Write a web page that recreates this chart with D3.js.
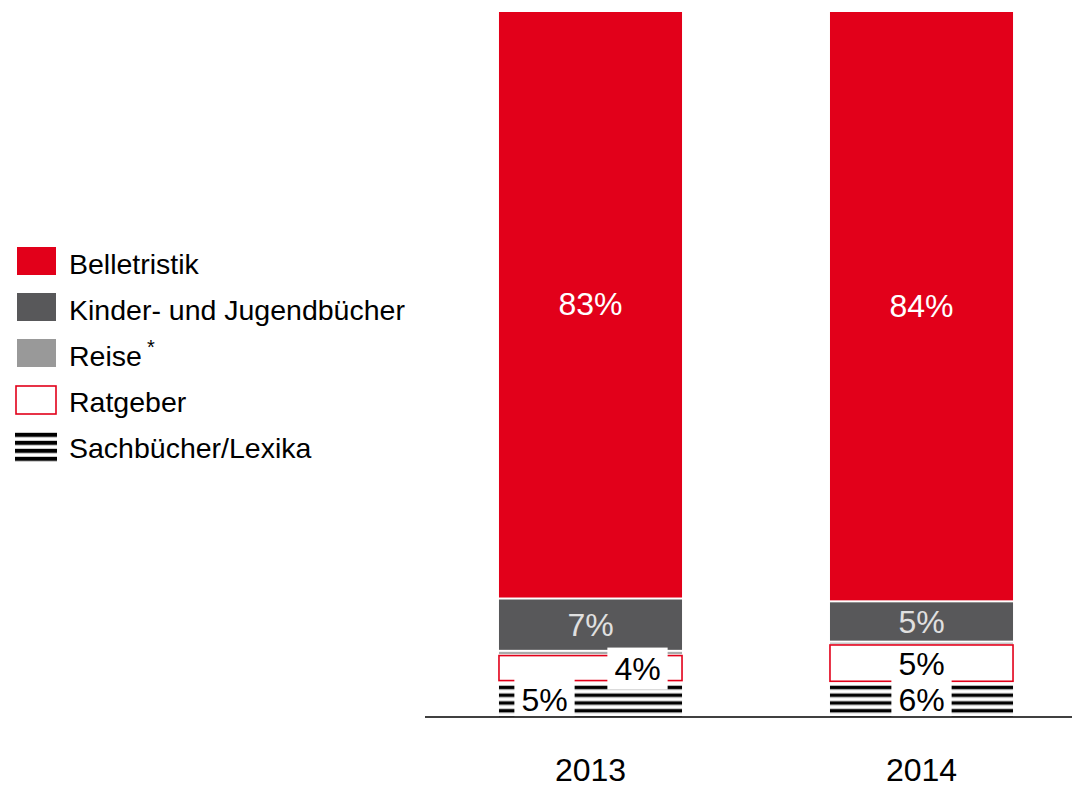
<!DOCTYPE html>
<html>
<head>
<meta charset="utf-8">
<script src="https://cdn.jsdelivr.net/npm/d3@7"></script>
<style>
  body { margin: 0; background: #fff; }
  svg { display: block; font-family: "Liberation Sans", Arial, sans-serif; }
</style>
</head>
<body>
<svg id="chart" width="1072" height="788"></svg>
<script>
// data, stacked bottom to top
const years = ["2013", "2014"];
const categories = ["Sachbücher/Lexika", "Ratgeber", "Reise", "Kinder- und Jugendbücher", "Belletristik"];
const sachbuecher = [4.8, 4.7];
const ratgeber = [4.1, 5.7];
const reise = [0.6, 0.4];
const kinder = [7.4, 5.7];
const belletristik = [83.1, 83.5];
// labels as printed on the chart (Reise has none)
const sachLabels = ["5%", "6%"];
const ratgeberLabels = ["4%", "5%"];
const kinderLabels = ["7%", "5%"];
const bellLabels = ["83%", "84%"];
const legendOrder = ["Belletristik", "Kinder- und Jugendbücher", "Reise", "Ratgeber", "Sachbücher/Lexika"];

const red = "#e2001a";
const dark = "#58585a";
const grey = "#999999";

const svg = d3.select("#chart");
const baseY = 717;

let x = d3.scaleBand()
  .domain(years)
  .range([425, 1087])
  .paddingInner(0.447)
  .paddingOuter(0.2235);
let y = d3.scaleLinear()
  .domain([0, 100])
  .range([baseY, 10]);

// stripe pattern for Sachbücher
let defs = svg.append("defs");
let pat = defs.append("pattern")
  .attr("id", "stripes")
  .attr("patternUnits", "userSpaceOnUse")
  .attr("width", 10)
  .attr("height", 7.75)
  .attr("y", 685);
pat.append("rect").attr("width", 10).attr("height", 7.75).attr("fill", "#fff");
pat.append("rect").attr("y", 0.3).attr("width", 10).attr("height", 0.8).attr("fill", "#999");
pat.append("rect").attr("y", 1).attr("width", 10).attr("height", 3.2).attr("fill", "#000");
pat.append("rect").attr("y", 4.2).attr("width", 10).attr("height", 0.8).attr("fill", "#999");

let series = [sachbuecher, ratgeber, reise, kinder, belletristik];
let rows = years.map((yr, i) => {
  let cum = 0;
  let segs = series.map((s, k) => {
    let seg = { year: yr, cat: categories[k], y0: cum, y1: cum + s[i] };
    cum += s[i];
    return seg;
  });
  return segs;
});

let gBars = svg.append("g");
rows.forEach((segs, i) => {
  let bx = x(years[i]);
  let bw = x.bandwidth();
  segs.forEach(seg => {
    let top = y(seg.y1);
    let bot = y(seg.y0);
    if (seg.cat === "Ratgeber") {
      gBars.append("rect")
        .attr("x", bx)
        .attr("y", top + 1.5)
        .attr("width", bw)
        .attr("height", bot - top - 4)
        .attr("fill", "#fff")
        .attr("stroke", red)
        .attr("stroke-width", 1.6);
    } else if (seg.cat === "Sachbücher/Lexika") {
      gBars.append("rect")
        .attr("x", bx)
        .attr("y", top + 1)
        .attr("width", bw)
        .attr("height", bot - top - 1)
        .attr("fill", "url(#stripes)");
    } else {
      let fill = seg.cat === "Belletristik" ? red : seg.cat === "Reise" ? "#aaaaaa" : dark;
      gBars.append("rect")
        .attr("x", bx)
        .attr("y", top + 2)
        .attr("width", bw)
        .attr("height", Math.max(1, bot - top - 2))
        .attr("fill", fill);
    }
  });
});

// value labels
function label(text, cx, cy, color, boxed) {
  let g = svg.append("g");
  let t = g.append("text")
    .attr("x", cx)
    .attr("y", cy)
    .attr("dy", "0.36em")
    .attr("text-anchor", "middle")
    .attr("font-size", 32)
    .attr("fill", color)
    .text(text);
  if (boxed) {
    let bb = t.node().getBBox();
    g.insert("rect", "text")
      .attr("x", bb.x - 7)
      .attr("y", cy - 21)
      .attr("width", bb.width + 14)
      .attr("height", 42)
      .attr("fill", "#fff");
  }
}

// horizontal nudges of the small labels, as in the original
const sachDx = [-46, 0];
const ratgeberDx = [47, 0];

rows.forEach((segs, i) => {
  let cx = x(years[i]) + x.bandwidth() / 2;
  let mid = s => (y(s.y0) + y(s.y1)) / 2;
  label(bellLabels[i], cx, mid(segs[4]), "#fff", false);
  label(kinderLabels[i], cx, mid(segs[3]) + 1, "#e0e0e0", false);
  label(ratgeberLabels[i], cx + ratgeberDx[i], mid(segs[1]), "#000", ratgeberDx[i] !== 0);
  label(sachLabels[i], cx + sachDx[i], mid(segs[0]) - 0.5, "#000", true);
});

// axis line
svg.append("line")
  .attr("x1", 425).attr("x2", 1072)
  .attr("y1", baseY).attr("y2", baseY)
  .attr("stroke", "#000")
  .attr("stroke-width", 1.5);

// year labels
svg.append("g").selectAll("text")
  .data(years)
  .enter().append("text")
  .attr("x", d => x(d) + x.bandwidth() / 2)
  .attr("y", 781)
  .attr("text-anchor", "middle")
  .attr("font-size", 32)
  .attr("fill", "#000")
  .text(d => d);

// legend
let legend = svg.append("g").attr("transform", "translate(0, 247)");
legendOrder.forEach((name, i) => {
  let g = legend.append("g").attr("transform", `translate(0, ${i * 46})`);
  if (name === "Ratgeber") {
    g.append("rect").attr("x", 16).attr("y", 1).attr("width", 40).attr("height", 28)
      .attr("fill", "#fff").attr("stroke", red).attr("stroke-width", 1.6);
  } else if (name === "Sachbücher/Lexika") {
    for (let k = 0; k < 4; k++) {
      g.append("rect").attr("x", 15).attr("y", 1.5 + k * 8).attr("width", 42).attr("height", 5)
        .attr("fill", "#999");
      g.append("rect").attr("x", 15).attr("y", 2 + k * 8).attr("width", 42).attr("height", 3.6)
        .attr("fill", "#000");
    }
  } else {
    let fill = name === "Belletristik" ? red : name === "Reise" ? grey : dark;
    g.append("rect").attr("x", 17).attr("y", 0).attr("width", 39).attr("height", 28)
      .attr("fill", fill);
  }
  let t = g.append("text")
    .attr("x", 69)
    .attr("y", 27)
    .attr("font-size", 28.5)
    .attr("fill", "#000")
    .text(name);
  if (name === "Reise") {
    t.append("tspan")
      .attr("dx", 5)
      .attr("dy", -12)
      .attr("font-size", 20)
      .text("*");
  }
});
</script>
</body>
</html>
